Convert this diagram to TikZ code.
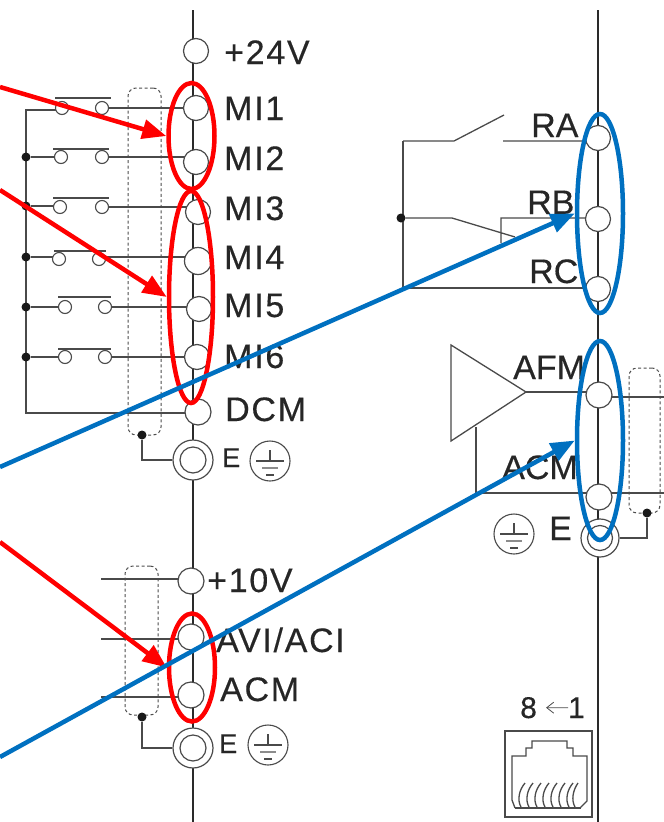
\documentclass[tikz,border=0pt]{standalone}
\usepackage{fontspec}
\setmainfont[FakeBold=0.35]{Liberation Sans}
\newfontfamily\widefont[LetterSpace=5,FakeBold=0.35]{Liberation Sans}
\usetikzlibrary{arrows.meta,shapes.geometric,backgrounds}
\definecolor{wirecol}{HTML}{4A4A4A}
\definecolor{railcol}{HTML}{2A2A2A}
\definecolor{markblue}{HTML}{0070C0}
\tikzset{
  term/.style={circle,draw=wirecol,fill=white,line width=1.2pt,inner sep=0pt,minimum size=25pt},
  contact/.style={circle,draw=wirecol,fill=white,line width=1.1pt,inner sep=0pt,minimum size=13pt},
  dotnode/.style={circle,fill=black!90,inner sep=0pt,minimum size=9pt},
  termtext/.style={anchor=base west,inner sep=0pt,text=black!85,font=\widefont\fontsize{34}{36}\selectfont},
  righttext/.style={anchor=base west,inner sep=0pt,text=black!85,font=\fontsize{34}{36}\selectfont},
  shield/.style={draw=black!70,dash pattern=on 3pt off 2.5pt,rounded corners=8pt,line width=1pt,inner sep=0pt},
  wire/.style={wirecol,line width=1.3pt},
  redring/.style={ellipse,draw=red,line width=4.5pt,inner sep=0pt},
  bluering/.style={ellipse,draw=markblue,line width=4.5pt,inner sep=0pt},
  redarrow/.style={red,line width=4.5pt,-{Triangle[length=24pt,width=19pt]}},
  bluearrow/.style={markblue,line width=4.5pt,-{Triangle[length=24pt,width=19pt]}},
  gndsign/.pic={
    \node[circle,draw=wirecol,line width=1.1pt,inner sep=0pt,minimum size=40pt] (-ring) at (0,0) {};
    \draw[wire] (0,-11) -- (0,0) (-14,0) -- (14,0);
    \draw[wire,black!45] (-8,7) -- (8,7);
    \draw[wire] (-4,14) -- (4,14);
  },
}
\begin{document}
\begin{tikzpicture}[x=1pt,y=-1pt]
\useasboundingbox (0,0) rectangle (664,822);
% left terminals
\node[term] (p24) at (196,51) {};
\node[term] (mi1) at (196,108) {};
\node[term] (mi2) at (196,162) {};
\node[term] (mi3) at (198,212) {};
\node[term,minimum size=27pt] (mi4) at (198,261) {};
\node[term] (mi5) at (199,309) {};
\node[term] (mi6) at (197,357) {};
\node[term,minimum size=26pt] (dcm) at (198,412) {};
\node[term,minimum size=40pt] (e1) at (193,460) {};
\node[term,minimum size=26pt] (e1in) at (193,460) {};
\node[term,minimum size=26pt] (p10) at (191,581) {};
\node[term,minimum size=26pt] (avi) at (191,637) {};
\node[term,minimum size=26pt] (acm1) at (191,695) {};
\node[term,minimum size=40pt] (e2) at (193,748) {};
\node[term,minimum size=26pt] (e2in) at (193,748) {};
% right terminals
\node[term] (ra) at (598,138) {};
\node[term] (rb) at (598,219) {};
\node[term] (rc) at (598,289) {};
\node[term,minimum size=26pt] (afm) at (599,395) {};
\node[term,minimum size=26pt] (acm2) at (599,497) {};
\node[term,minimum size=38pt] (e3) at (600,538) {};
\node[term] (e3in) at (600,538) {};
% switches
\node[contact] (a1) at (62,108) {};
\node[contact] (b1) at (102,108) {};
\node[contact] (a2) at (61,157) {};
\node[contact] (b2) at (102,157) {};
\node[contact] (a3) at (60,207) {};
\node[contact] (b3) at (102,207) {};
\node[contact] (a4) at (59,259) {};
\node[contact] (b4) at (99,259) {};
\node[contact] (a5) at (65,307) {};
\node[contact] (b5) at (105,307) {};
\node[contact] (a6) at (65,357) {};
\node[contact] (b6) at (105,357) {};
\draw[wire] (55,98) -- (111,98) (53,149) -- (109,149) (53,198) -- (109,198);
\draw[wire] (54,251) -- (106,251) (58,297) -- (111,297) (58,349) -- (111,349);
% bus dots
\coordinate (bustop) at (26,110);
\coordinate (busbot) at (26,413);
\node[dotnode] (d2) at (26,157) {};
\node[dotnode] (d3) at (26,206) {};
\node[dotnode] (d4) at (26,257) {};
\node[dotnode] (d5) at (26,307) {};
\node[dotnode] (d6) at (26,357) {};
% shields
\node[shield,minimum width=33pt,minimum height=347pt] (sh1) at (144.5,261.5) {};
\node[shield,minimum width=33pt,minimum height=149pt] (sh2) at (141.5,640.5) {};
\node[shield,minimum width=31pt,minimum height=145pt] (sh3) at (644.5,440.5) {};
\node[dotnode] (sd1) at (142,435) {};
\node[dotnode] (sd2) at (142,717) {};
\node[dotnode] (sd3) at (647,513) {};
% relay and amplifier
\coordinate (k1) at (403,141);
\coordinate (k2) at (454,141);
\coordinate (k3) at (504,115);
\coordinate (k4) at (503,141);
\coordinate (k5) at (403,288);
\node[dotnode] (kd) at (401,218) {};
\coordinate (k6) at (452,218);
\coordinate (k7) at (515,237);
\coordinate (k8) at (501,243);
\coordinate (k9) at (501,218);
\coordinate (amptip) at (526,392);
\coordinate (ampa) at (476,427);
\coordinate (ampb) at (476,493);
\coordinate (afmout) at (664,397);
\coordinate (acmout) at (664,493);
\coordinate (low1) at (101,579);
\coordinate (low2) at (101,639);
\coordinate (low3) at (101,697);
\draw[wire,fill=white] (451,345) -- (amptip) -- (451,441) -- cycle;
% the wires go behind the terminals
\begin{scope}[on background layer]
\draw[railcol,line width=1.3pt] (193,10) -- (193,822) (598,10) -- (598,822);
\draw[wire] (a1) -- (a1 |- bustop) -- (bustop) -- (busbot) -- (busbot -| dcm);
\draw[wire] (d2) -- (d2 -| a2) (d3) -- (d3 -| a3) (d4) -- (d4 -| a4) (d5) -- (a5) (d6) -- (a6);
\draw[wire] (b1) -- (mi1) (b2) -- (b2 -| mi2) (b3) -- (b3 -| mi3) (b4 |- d4) -- (d4 -| mi4);
\draw[wire] (b5) -- (b5 -| mi5) (b6) -- (b6 -| mi6);
\draw[wire] (sd1) |- (e1);
\draw[wire] (sd2) |- (e2);
\draw[wire] (sd3) |- (e3);
\draw[wire] (low1) -- (low1 -| p10);
\draw[wire] (low2) -- (low2 -| avi);
\draw[wire] (low3) -- (low3 -| acm1);
\draw[wire] (k1) -- (k2) -- (k3) (k4) -- (k4 -| ra);
\draw[wire] (k1) -- (k5) -- (k5 -| rc);
\draw[wire] (kd) -- (k6) -- (k7) (k8) -- (k9) -- (k9 -| rb);
\draw[wire] (amptip) -- (amptip -| afm) (ampa) -- (ampb) -- (ampb -| acm2);
\draw[wire] (afmout) -- (afmout -| afm) (acmout) -- (acmout -| acm2);
\end{scope}
% labels
\node[termtext] (tp24) at (224,64) {+24V};
\node[termtext] (tmi1) at (224,120) {MI1};
\node[termtext] (tmi2) at (224,170) {MI2};
\node[termtext] (tmi3) at (224,220) {MI3};
\node[termtext] (tmi4) at (224,269) {MI4};
\node[termtext] (tmi5) at (224,317) {MI5};
\node[termtext] (tmi6) at (224,368) {MI6};
\node[termtext] (tdcm) at (225,421) {DCM};
\node[righttext,font=\fontsize{27}{28}\selectfont] (te1) at (222,467) {E};
\node[termtext] (tp10) at (207,592) {+10V};
\node[termtext] (tavi) at (216,652) {AVI/ACI};
\node[termtext] (tacm1) at (220,701) {ACM};
\node[righttext,font=\fontsize{27}{28}\selectfont] (te2) at (219,753) {E};
\node[righttext] (tra) at (531,137) {RA};
\node[righttext] (trb) at (527,214) {RB};
\node[righttext] (trc) at (529,283) {RC};
\node[righttext] (tafm) at (513,379) {AFM};
\node[righttext] (tacm2) at (502,479) {ACM};
\node[righttext] (te3) at (549,540) {E};
\pic (g1) at (270,461) {gndsign};
\pic (g2) at (268,745) {gndsign};
\pic (g3) at (514,534) {gndsign};
% connector socket
\node[righttext,font=\fontsize{30}{32}\selectfont] (pin8) at (520,718) {8};
\node[righttext,font=\fontsize{30}{32}\selectfont] (pin1) at (568,718) {1};
\draw[wirecol,line width=.8pt,shorten >=9pt,-{Straight Barb[length=7pt,width=11pt]}] (pin1.west) -- (pin8.east);
\draw[wirecol,line width=1.2pt] (505,731) rectangle (592,817);
\draw[wire] (515,808) -- (512,800) -- (512,756) -- (526,756) -- (526,748) -- (532,748) -- (532,741)
 -- (567,741) -- (567,748) -- (573,748) -- (573,756) -- (587,756) -- (587,801) -- (580,808);
\draw[wirecol,line width=1.6pt] (515,808) -- (581,808);
\draw[wire] (525,783) .. controls (519,790) and (517,800) .. (521,807)
 (533,783) .. controls (527,790) and (525,800) .. (529,807)
 (541,783) .. controls (535,790) and (533,800) .. (537,807)
 (549,783) .. controls (543,790) and (541,800) .. (545,807)
 (557,783) .. controls (551,790) and (549,800) .. (553,807)
 (565,783) .. controls (559,790) and (557,800) .. (561,807)
 (573,783) .. controls (567,790) and (565,800) .. (569,807)
 (578,783) .. controls (573,790) and (571,800) .. (575,807);
% markers
\node[redring,minimum width=46pt,minimum height=106pt] (redtop) at (191.5,136) {};
\node[redring,minimum width=44pt,minimum height=212pt] (redmid) at (191,297) {};
\node[redring,minimum width=46pt,minimum height=108pt] (redlow) at (192,667.5) {};
\node[bluering,minimum width=46pt,minimum height=199pt] (blueup) at (600,213.5) {};
\node[bluering,minimum width=46pt,minimum height=199pt] (bluelow) at (600,440.5) {};
\coordinate (r1) at (0,87);
\coordinate (r2) at (0,190);
\coordinate (r3) at (0,542);
\coordinate (b7) at (0,467);
\coordinate (b8) at (0,757);
\draw[redarrow] (r1) -- (redtop.west);
\draw[redarrow] (r2) -- (redmid.west);
\draw[redarrow] (r3) -- (redlow.west);
\draw[bluearrow] (b7) -- (blueup.west);
\draw[bluearrow] (b8) -- (bluelow.west);
\end{tikzpicture}
\end{document}
